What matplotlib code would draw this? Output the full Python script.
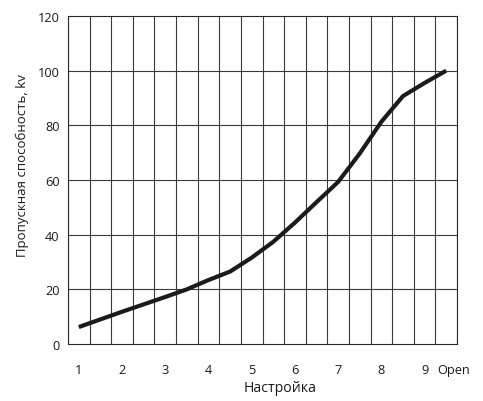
import numpy as np
import matplotlib.pyplot as plt

plt.rcParams['font.family'] = ['Open Sans', 'DejaVu Sans']

# настройка клапана и пропускная способность
settings = [1, 2, 3, 3.5, 4, 4.5, 5, 5.5, 6, 6.5, 7, 7.5, 8, 8.5, 9, 9.5]
kv = [6.2, 11.8, 17.2, 20.0, 23.4, 26.5, 31.6, 37.4, 44.4, 51.9, 59.3, 69.7, 81.3, 90.7, 95.5, 100]
tick_pos = [1, 2, 3, 4, 5, 6, 7, 8, 9, 9.68]
tick_labels = ['1', '2', '3', '4', '5', '6', '7', '8', '9', 'Open']

fig = plt.figure(figsize=(4.83, 4.02), dpi=100)
ax = fig.add_axes([68 / 483, 57 / 402, 389 / 483, 328 / 402])

ax.set_xlim(0.75, 9.75)
ax.set_ylim(0, 120)

# сетка: вертикальные линии через каждые полделения
for x in np.arange(0.75, 9.76, 0.5):
    ax.axvline(x, color='#3a3a3a', lw=0.8, zorder=1)
for y in range(20, 120, 20):
    ax.axhline(y, color='#3a3a3a', lw=0.8, zorder=1)

ax.plot(settings, kv, color='#1c1a1a', lw=3.0, solid_capstyle='butt',
        solid_joinstyle='round', zorder=3)

ax.set_xticks(tick_pos)
ax.set_xticklabels(tick_labels)
ax.set_yticks(range(0, 121, 20))
ax.tick_params(length=0, labelsize=9.2, colors='#1a1a1a')
ax.tick_params(axis='x', pad=13.5)
ax.tick_params(axis='y', pad=6)

for s in ax.spines.values():
    s.set_color('#2a2a2a')
    s.set_linewidth(0.8)

ax.set_xlabel('Настройка', fontsize=10.2, color='#1a1a1a')
ax.xaxis.label.set_va('center')
ax.xaxis.set_label_coords(0.545, -0.133)
ax.set_ylabel('Пропускная способность, kv', fontsize=9.5, color='#1a1a1a')
ax.yaxis.label.set_va('center')
ax.yaxis.set_label_coords(-0.118, 0.546)

fig.savefig('out.png', dpi=100)
